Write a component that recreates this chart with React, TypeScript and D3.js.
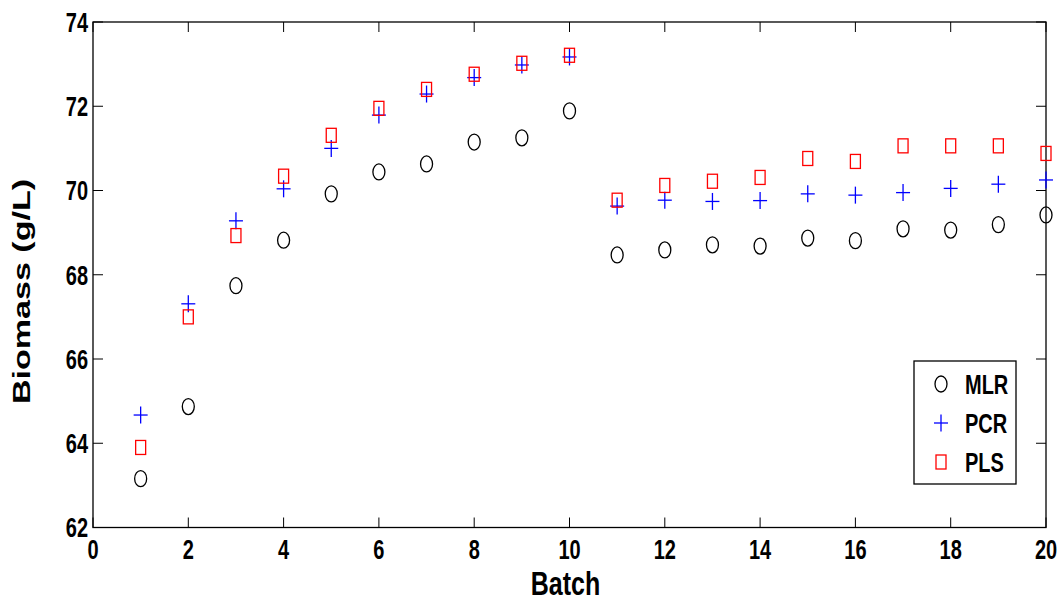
import React from "react";
import * as d3 from "d3";

const batches = [1, 2, 3, 4, 5, 6, 7, 8, 9, 10, 11, 12, 13, 14, 15, 16, 17, 18, 19, 20];
const mlr = [63.16, 64.87, 67.74, 68.82, 69.92, 70.44, 70.63, 71.15, 71.25, 71.89, 68.47, 68.59, 68.71, 68.68, 68.87, 68.81, 69.09, 69.06, 69.19, 69.42];
const pcr = [64.67, 67.31, 69.28, 70.04, 71.0, 71.79, 72.29, 72.68, 72.98, 73.17, 69.63, 69.77, 69.74, 69.76, 69.92, 69.89, 69.95, 70.05, 70.15, 70.25];
const pls = [63.9, 67.0, 68.93, 70.34, 71.31, 71.95, 72.4, 72.76, 73.02, 73.21, 69.77, 70.12, 70.22, 70.31, 70.76, 70.69, 71.06, 71.06, 71.06, 70.88];
const xTicks = [0, 2, 4, 6, 8, 10, 12, 14, 16, 18, 20];
const yTicks = [62, 64, 66, 68, 70, 72, 74];
const seriesNames = ["MLR", "PCR", "PLS"];

const W = 1064, H = 600;
const L = 93, R = 1046, T = 22, B = 527.5;
const FONT = "'Liberation Sans', Arial, sans-serif";
const SY = 1.4;

function Marker({ type, x, y }: { type: string; x: number; y: number }) {
  if (type === "MLR")
    return <ellipse cx={x} cy={y} rx={6} ry={8} fill="none" stroke="#000" strokeWidth={1.3} />;
  if (type === "PCR")
    return (
      <g stroke="#0000ff" strokeWidth={1.3}>
        <line x1={x - 7} x2={x + 7} y1={y} y2={y} />
        <line x1={x} x2={x} y1={y - 8.5} y2={y + 8.5} />
      </g>
    );
  return <rect x={x - 5} y={y - 7} width={10} height={14} fill="none" stroke="#ff0000" strokeWidth={1.3} />;
}

export default function App() {
  const x = d3.scaleLinear().domain([0, 20]).range([L, R]);
  const y = d3.scaleLinear().domain([62, 74]).range([B, T]);
  const tl = 10;
  const data: Record<string, number[]> = { MLR: mlr, PCR: pcr, PLS: pls };
  return (
    <svg width={W} height={H} style={{ position: "absolute", left: 0, top: 0, background: "#fff" }}>
      <rect x={0} y={0} width={W} height={H} fill="#fff" />
      <rect x={L} y={T} width={R - L} height={B - T} fill="none" stroke="#000" strokeWidth={1.3} />
      {xTicks.map((t) => (
        <g key={"xt" + t}>
          <line x1={x(t)} x2={x(t)} y1={B} y2={B - tl} stroke="#000" strokeWidth={1} />
          <line x1={x(t)} x2={x(t)} y1={T} y2={T + tl} stroke="#000" strokeWidth={1} />
          <text
            transform={`translate(${x(t)},${B + 22}) scale(1,${SY})`}
            textAnchor="middle"
            dominantBaseline="central"
            fontFamily={FONT}
            fontWeight="bold"
            fontSize={20}
          >
            {t}
          </text>
        </g>
      ))}
      {yTicks.map((t) => (
        <g key={"yt" + t}>
          <line x1={L} x2={L + tl} y1={y(t)} y2={y(t)} stroke="#000" strokeWidth={1} />
          <line x1={R} x2={R - tl} y1={y(t)} y2={y(t)} stroke="#000" strokeWidth={1} />
          <text
            transform={`translate(${L - 5},${y(t)}) scale(1,${SY})`}
            textAnchor="end"
            dominantBaseline="central"
            fontFamily={FONT}
            fontWeight="bold"
            fontSize={20}
          >
            {t}
          </text>
        </g>
      ))}
      <text
        transform={`translate(${(L + R) / 2 - 4},${595}) scale(1,1.3)`}
        textAnchor="middle"
        fontFamily={FONT}
        fontWeight="bold"
        fontSize={25}
      >
        Batch
      </text>
      <text
        transform={`translate(${30},${291.5}) rotate(-90) scale(1.45,1)`}
        textAnchor="middle"
        fontFamily={FONT}
        fontWeight="bold"
        fontSize={23.5}
      >
        Biomass (g/L)
      </text>
      {seriesNames.map((s) =>
        batches.map((b, i) => <Marker key={s + b} type={s} x={x(b)} y={y(data[s][i])} />)
      )}
      <rect x={914} y={361} width={102} height={123} fill="#fff" stroke="#000" strokeWidth={1.3} />
      {seriesNames.map((s, i) => (
        <g key={"lg" + s}>
          <Marker type={s} x={941} y={384 + i * 39} />
          <text
            transform={`translate(${965},${384 + i * 39}) scale(1,${SY})`}
            dominantBaseline="central"
            fontFamily={FONT}
            fontWeight="bold"
            fontSize={20}
          >
            {s}
          </text>
        </g>
      ))}
    </svg>
  );
}
